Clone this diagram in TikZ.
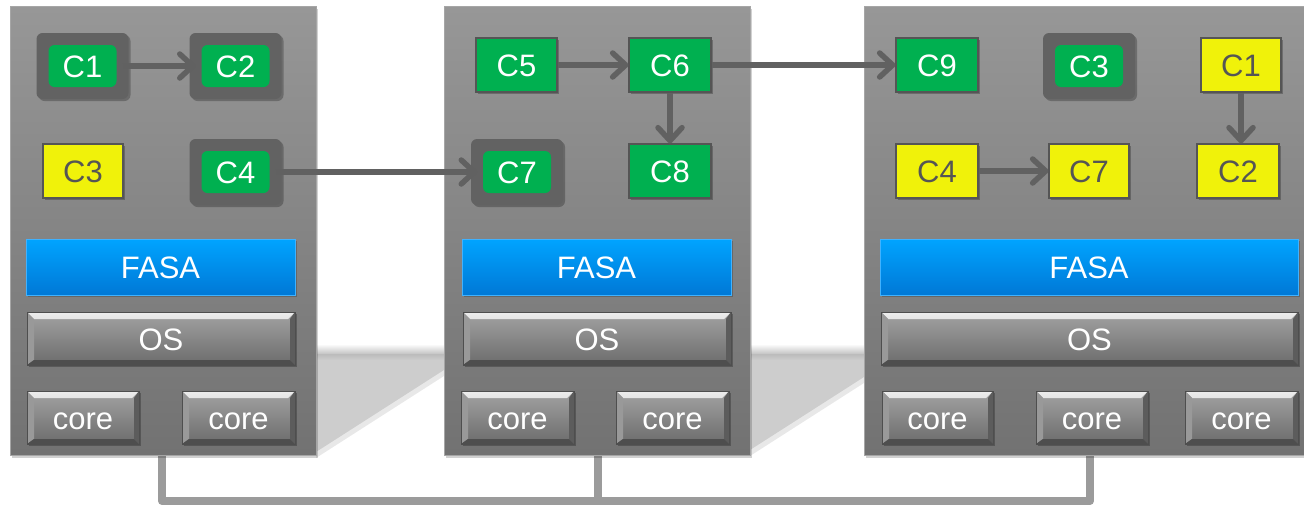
\documentclass[tikz,border=0pt]{standalone}
\usepackage{fontspec}
\setmainfont{Liberation Sans}
\usetikzlibrary{arrows.meta,shadows}

\definecolor{panelTop}{HTML}{979797}
\definecolor{panelBot}{HTML}{727272}
\definecolor{panelEdge}{HTML}{A6A6A6}
\definecolor{frameGrey}{HTML}{626262}
\definecolor{compGreen}{HTML}{00B050}
\definecolor{compYellow}{HTML}{F0F20A}
\definecolor{compEdge}{HTML}{555555}
\definecolor{fasaTop}{HTML}{00A4FF}
\definecolor{fasaBot}{HTML}{0078D6}
\definecolor{fasaEdge}{HTML}{40B2FF}
\definecolor{arrowGrey}{HTML}{616161}
\definecolor{busGrey}{HTML}{9B9B9B}
\definecolor{floorGrey}{HTML}{CDCDCD}
\definecolor{floorDark}{HTML}{BDBDBD}
\definecolor{bevTop}{HTML}{A2A2A2}
\definecolor{bevBot}{HTML}{6C6C6C}
\definecolor{bevHi}{HTML}{EDEDED}
\definecolor{bevMid}{HTML}{ABABAB}
\definecolor{bevSide}{HTML}{999999}
\definecolor{bevDark}{HTML}{4E4E4E}
\definecolor{bevRight}{HTML}{5C5C5C}

\tikzset{
  panel/.style={top color=panelTop, bottom color=panelBot, draw=panelEdge,
    line width=1pt,
    drop shadow={shadow xshift=2pt, shadow yshift=-3pt, opacity=0.18, fill=black}},
  framed/.style={fill=frameGrey, rounded corners=6pt, minimum width=92pt,
    minimum height=66pt, outer sep=-6pt, text=white,
    drop shadow={shadow xshift=2pt, shadow yshift=-2pt, opacity=0.25, fill=black},
    path picture={\fill[compGreen]
      ([xshift=12pt,yshift=-12pt]path picture bounding box.north west) rectangle
      ([xshift=-12pt,yshift=12pt]path picture bounding box.south east);}},
  compbox/.style={draw=compEdge, line width=1.2pt, minimum width=81pt,
    minimum height=54pt,
    drop shadow={shadow xshift=2pt, shadow yshift=-2pt, opacity=0.25, fill=black}},
  gbox/.style={compbox, fill=compGreen, text=white},
  ybox/.style={compbox, fill=compYellow, text=compEdge},
  fasa/.style={top color=fasaTop, bottom color=fasaBot, draw=fasaEdge,
    line width=1pt, minimum height=56pt, text=white,
    drop shadow={shadow xshift=2pt, shadow yshift=-2pt, opacity=0.2, fill=black}},
  bevel/.style={top color=bevTop, bottom color=bevBot, draw=bevDark,
    line width=0.8pt, minimum height=53pt, text=white,
    drop shadow={shadow xshift=2pt, shadow yshift=-2pt, opacity=0.25, fill=black},
    path picture={
      \shade[top color=bevHi, bottom color=bevMid]
        (path picture bounding box.north west) --
        (path picture bounding box.north east) --
        ([xshift=-7pt,yshift=-7pt]path picture bounding box.north east) --
        ([xshift=7pt,yshift=-7pt]path picture bounding box.north west) -- cycle;
      \fill[bevSide]
        (path picture bounding box.north west) --
        ([xshift=7pt,yshift=-7pt]path picture bounding box.north west) --
        ([xshift=7pt,yshift=5pt]path picture bounding box.south west) --
        (path picture bounding box.south west) -- cycle;
      \fill[bevRight]
        (path picture bounding box.north east) --
        ([xshift=-5pt,yshift=-7pt]path picture bounding box.north east) --
        ([xshift=-5pt,yshift=5pt]path picture bounding box.south east) --
        (path picture bounding box.south east) -- cycle;
      \fill[bevDark]
        (path picture bounding box.south west) --
        (path picture bounding box.south east) --
        ([xshift=-5pt,yshift=5pt]path picture bounding box.south east) --
        ([xshift=7pt,yshift=5pt]path picture bounding box.south west) -- cycle;
    }},
  conn/.style={draw=arrowGrey, line width=5.5pt,
    -{Straight Barb[length=13pt, width=24pt, round]}},
  bus/.style={draw=busGrey, line width=8pt, line join=round}
}

\begin{document}
\begin{tikzpicture}[x=1pt, y=-1pt,
  every node/.style={inner sep=0pt, font=\fontsize{31}{37}\selectfont,
    text height=30pt, text depth=6.5pt}]
\useasboundingbox (0,0) rectangle (1304,509);

% soft floor shadow seen between the boards
\foreach \xa/\xb/\ya/\yb in {316/444/452/370, 750/864/450/377} {
  \fill[floorGrey, opacity=0.45] (\xa,359) -- (\xb,359) -- (\xb,\yb+6) -- (\xa,\ya+6) -- cycle;
  \fill[floorGrey] (\xa,359) -- (\xb,359) -- (\xb,\yb) -- (\xa,\ya) -- cycle;
  \shade[top color=white, bottom color=floorDark] (\xa,344) rectangle (\xb,355);
  \shade[top color=floorDark, bottom color=floorGrey] (\xa,354.5) rectangle (\xb,360);
}

% interconnect bus
\coordinate (t1) at (162,455);
\coordinate (t2) at (598,455);
\coordinate (t3) at (1090,455);
\coordinate (bl) at (162,501);
\coordinate (bm) at (598,501);
\coordinate (br) at (1090,501);
\draw[bus] (t1) -- (bl) -- (br) -- (t3);
\draw[bus] (t2) -- (bm);

% boards
\node[panel, minimum width=306pt, minimum height=449pt] (p1) at (163,230.5) {};
\node[panel, minimum width=306pt, minimum height=449pt] (p2) at (597,230.5) {};
\node[panel, minimum width=446pt, minimum height=449pt] (p3) at (1087,230.5) {};

% middleware, OS and cores
\node[fasa, minimum width=269pt] (f1) at (160.5,267) {FASA};
\node[fasa, minimum width=269pt] (f2) at (596.5,267) {FASA};
\node[fasa, minimum width=418pt] (f3) at (1089,267) {FASA};

\node[bevel, minimum width=268pt] (o1) at (161,338.5) {OS};
\node[bevel, minimum width=268pt] (o2) at (597,338.5) {OS};
\node[bevel, minimum width=417pt] (o3) at (1089.5,338.5) {OS};

\node[bevel, minimum width=112pt] (k1a) at (83,417.5) {core};
\node[bevel, minimum width=113pt] (k1b) at (238.5,417.5) {core};
\node[bevel, minimum width=113pt] (k2a) at (517.5,417.5) {core};
\node[bevel, minimum width=113pt] (k2b) at (672.5,417.5) {core};
\node[bevel, minimum width=111pt] (k3a) at (937.5,417.5) {core};
\node[bevel, minimum width=112pt] (k3b) at (1092,417.5) {core};
\node[bevel, minimum width=113pt] (k3c) at (1241.5,417.5) {core};

% components
\node[framed] (a1) at (82.5,66) {C1};
\node[framed] (a2) at (235.5,66) {C2};
\node[ybox, minimum width=80pt] (a3) at (83,171) {C3};
\node[framed] (a4) at (235.5,172) {C4};

\node[gbox] (b5) at (516.5,65) {C5};
\node[gbox, minimum width=82pt] (b6) at (670,65) {C6};
\node[framed] (b7) at (517,172) {C7};
\node[gbox, minimum width=82pt] (b8) at (670,171) {C8};

\node[gbox, minimum width=82pt] (c9) at (937,65) {C9};
\node[framed] (c3) at (1089,66) {C3};
\node[ybox, minimum width=80pt] (c1) at (1241,65) {C1};
\node[ybox, minimum width=82pt] (c4) at (937,171) {C4};
\node[ybox, minimum width=80pt] (c7) at (1089,171) {C7};
\node[ybox, minimum width=82pt] (c2) at (1238,171) {C2};

% data flows
\draw[conn] (a1) -- (a2);
\draw[conn] (a4) -- (b7);
\draw[conn] (b5) -- (b6);
\draw[conn] (b6) -- (c9);
\draw[conn] (b6) -- (b8);
\draw[conn] (c4) -- (c7);
\draw[conn] (c1.south) -- (c1.south |- c2.north);
\end{tikzpicture}
\end{document}
